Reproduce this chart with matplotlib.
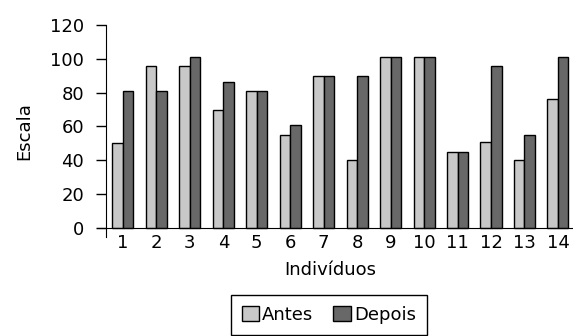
import matplotlib
matplotlib.use('Agg')
import matplotlib.pyplot as plt
import numpy as np

######################################################################## data

individuos = ['1', '2', '3', '4', '5', '6', '7', '8', '9', '10', '11', '12', '13', '14']
antes = [50, 96, 96, 70, 81, 55, 90, 40, 101, 101, 45, 51, 40, 76]
depois = [81, 81, 101, 86, 81, 61, 90, 90, 101, 101, 45, 96, 55, 101]
y_ticks = [0, 20, 40, 60, 80, 100, 120]

####################################################################### figure

plt.rcParams['font.family'] = ['DejaVu Sans']

fig = plt.figure(figsize=(5.73, 3.36), dpi=100)
ax = fig.add_axes([0.169, 0.296, 0.831, 0.630])

x = np.arange(1, len(individuos) + 1)
w = 0.315
ax.bar(x - w / 2, antes, w, color='#c8c8c8', edgecolor='black', linewidth=1, label='Antes')
ax.bar(x + w / 2, depois, w, color='#686868', edgecolor='black', linewidth=1, label='Depois')

ax.set_xlim(0.22, 14.45)
ax.set_ylim(-5, 120)

# axes cross a little past the origin
ax.spines['bottom'].set_position(('data', 0))
ax.spines['left'].set_position(('data', 0.5))
ax.spines['top'].set_visible(False)
ax.spines['right'].set_visible(False)

ax.set_xticks(x)
ax.set_xticklabels(individuos, fontsize=13)
ax.tick_params(axis='x', length=0, pad=4)
ax.set_yticks(y_ticks)
ax.set_yticklabels([str(v) for v in y_ticks], fontsize=13)
ax.tick_params(axis='y', length=7, width=1, direction='out', pad=9)

ax.set_ylabel('Escala', fontsize=13, labelpad=12)
fig.text(0.576, 0.196, 'Indivíduos', fontsize=13, ha='center', va='center')

leg = fig.legend(loc='upper center', bbox_to_anchor=(0.574, 0.122), ncol=2, fontsize=13,
                 frameon=True, fancybox=False, edgecolor='black', framealpha=1,
                 handlelength=0.95, handleheight=0.95, handletextpad=0.2,
                 columnspacing=1.1, borderpad=0.6, borderaxespad=0)
leg.get_frame().set_linewidth(1)

fig.savefig('out.png', dpi=100)
